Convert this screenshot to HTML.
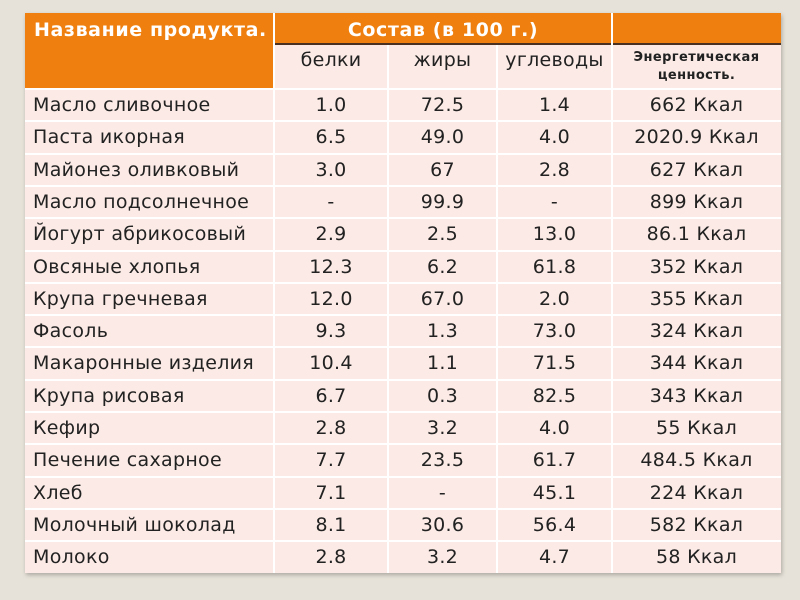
<!DOCTYPE html>
<html><head><meta charset="utf-8"><style>
body{margin:0;width:800px;height:600px;background:#e6e2d9;overflow:hidden;font-family:"DejaVu Sans","Liberation Sans",sans-serif;}
#t{position:absolute;left:25px;top:13px;width:756px;height:560px;background:#fbeae5;box-shadow:1px 2px 4px rgba(0,0,0,0.25);}
.c{position:absolute;box-sizing:border-box;display:flex;align-items:center;justify-content:center;font-size:19px;letter-spacing:0.3px;color:#222;white-space:nowrap;}
.l{justify-content:flex-start;padding-left:8px;}
.o{background:#ef7f0f;color:#fff;font-weight:bold;font-size:19px;letter-spacing:0.6px;}
.v{position:absolute;width:2px;background:#fff;}
.h{position:absolute;height:2px;background:#fff;left:0;width:756px;}
</style></head><body>
<div id="t">
<div class="c o l" style="left:0;top:0;width:249px;height:76px;align-items:flex-start;padding-top:6px;padding-left:9px;">Название продукта.</div>
<div class="c o" style="left:249px;top:0;width:338px;height:31px;padding-top:2px;">Состав (в 100 г.)</div>
<div class="c o" style="left:587px;top:0;width:169px;height:31px;"></div>
<div style="position:absolute;left:249px;top:30px;width:507px;height:2px;background:#4a3020;"></div>
<div class="c" style="left:249px;top:32px;width:114px;height:44px;align-items:flex-start;padding-top:4px;">белки</div>
<div class="c" style="left:363px;top:32px;width:109px;height:44px;align-items:flex-start;padding-top:4px;">жиры</div>
<div class="c" style="left:472px;top:32px;width:115px;height:44px;align-items:flex-start;padding-top:4px;">углеводы</div>
<div class="c" style="left:587px;top:32px;width:169px;height:44px;font-size:13px;letter-spacing:0.4px;font-weight:bold;text-align:center;line-height:18px;white-space:normal;">Энергетическая ценность.</div>
<div id="rows"></div>
<div class="v" style="left:248px;top:0;height:560px;"></div>
<div class="v" style="left:362px;top:32px;height:528px;"></div>
<div class="v" style="left:471px;top:32px;height:528px;"></div>
<div class="v" style="left:586px;top:0;height:560px;"></div>
</div>
<script>
var d=[["Масло сливочное","1.0","72.5","1.4","662 Ккал"],["Паста икорная","6.5","49.0","4.0","2020.9 Ккал"],["Майонез оливковый","3.0","67","2.8","627 Ккал"],["Масло подсолнечное","-","99.9","-","899 Ккал"],["Йогурт абрикосовый","2.9","2.5","13.0","86.1 Ккал"],["Овсяные хлопья","12.3","6.2","61.8","352 Ккал"],["Крупа гречневая","12.0","67.0","2.0","355 Ккал"],["Фасоль","9.3","1.3","73.0","324 Ккал"],["Макаронные изделия","10.4","1.1","71.5","344 Ккал"],["Крупа рисовая","6.7","0.3","82.5","343 Ккал"],["Кефир","2.8","3.2","4.0","55 Ккал"],["Печение сахарное","7.7","23.5","61.7","484.5 Ккал"],["Хлеб","7.1","-","45.1","224 Ккал"],["Молочный шоколад","8.1","30.6","56.4","582 Ккал"],["Молоко","2.8","3.2","4.7","58 Ккал"]];
var X=[0,249,363,472,587,756],h="";
for(var i=0;i<d.length;i++){var y=76+i*32.3;
h+='<div class="h" style="top:'+(y-1)+'px"></div>';
for(var j=0;j<5;j++)h+='<div class="c'+(j==0?' l':'')+'" style="left:'+X[j]+'px;top:'+y+'px;width:'+(X[j+1]-X[j])+'px;height:32px">'+d[i][j]+'</div>';}
document.getElementById('rows').innerHTML=h;
</script>
</body></html>
